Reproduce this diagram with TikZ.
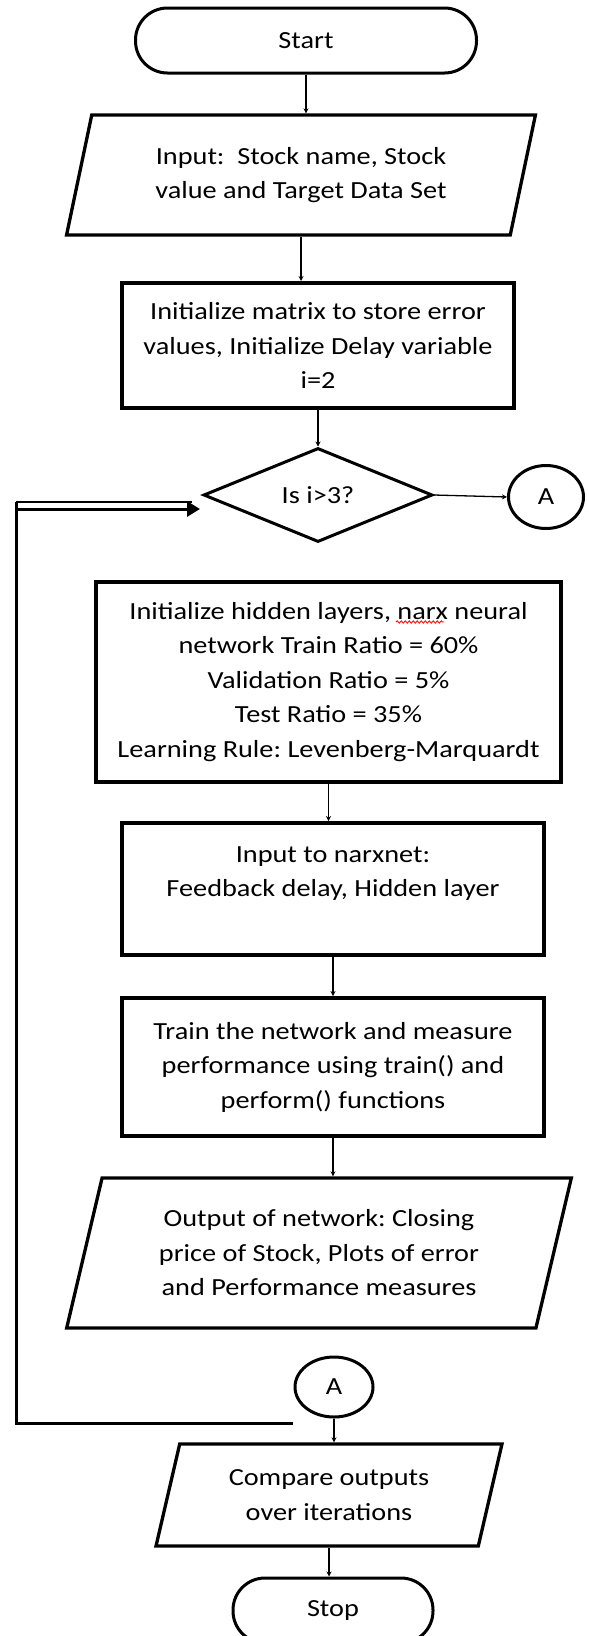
\documentclass[tikz,border=0pt]{standalone}
\usepackage{fontspec}
\setmainfont{Carlito}[FakeStretch=1.15]
\frenchspacing
\usetikzlibrary{shapes.geometric,arrows.meta,decorations.pathmorphing}
\begin{document}
\begin{tikzpicture}[x=1pt,y=-1pt,
  font=\fontsize{24.6}{34.5}\selectfont,
  term/.style={draw,line width=3,rounded corners=32,minimum width=341,minimum height=65},
  io/.style={draw,line width=3.3,trapezium,trapezium left angle=74,trapezium right angle=106,trapezium stretches=true,align=center},
  proc/.style={draw,line width=4,rectangle,align=center},
  decision/.style={draw,line width=3,diamond,aspect=2.4,inner sep=0,minimum width=229,minimum height=94},
  conn/.style={draw,line width=3,ellipse,inner sep=0,minimum width=75,minimum height=63},
  flow/.style={line width=1.3,-{Stealth[length=5,width=5]}}]
\useasboundingbox (0,0) rectangle (589,1636);

\node[term] (start) at (306,40.5) {Start};
\node[io,minimum width=470,minimum height=120] (in) at (301,175) {Input:\ \ Stock name, Stock\\value and Target Data Set};
\node[proc,minimum width=392,minimum height=125] (init) at (318,345.5) {Initialize matrix to store error\\values, Initialize Delay variable\\i=2};
\node[decision] (test) at (318,495) {Is i>3?};
\node[conn] (a1) at (546,497) {A};
\node[proc,minimum width=465,minimum height=200] (setup) at (328.5,682) {Initialize hidden layers, narx neural\\network Train Ratio = 60\%\\Validation Ratio = 5\%\\Test Ratio = 35\%\\Learning Rule: Levenberg-Marquardt};
\node[proc,minimum width=422,minimum height=132] (narx) at (333,889) {Input to narxnet:\\Feedback delay, Hidden layer\\\mbox{}};
\node[proc,minimum width=422,minimum height=138] (train) at (333,1067) {Train the network and measure\\performance using train() and\\perform() functions};
\node[io,minimum width=506,minimum height=150] (out) at (319,1253) {Output of network: Closing\\price of Stock, Plots of error\\and Performance measures};
\node[conn,minimum width=78,minimum height=60] (a2) at (334,1387) {A};
\node[io,minimum width=346,minimum height=102] (cmp) at (329,1495) {Compare outputs\\over iterations};
\node[term,minimum width=200] (stop) at (333,1610.5) {Stop};

\draw[flow] (start.south) -- (start.south |- in.north);
\draw[flow] (in.south) -- (in.south |- init.north);
\draw[flow] (init.south) -- (test.north);
\draw[flow] (test.east) -- (a1.west);
\draw[flow] (setup.south) -- (setup.south |- narx.north);
\draw[flow] (narx.south) -- (train.north);
\draw[flow] (train.south) -- (train.south |- out.north);
\draw[flow] (a2.south) -- (a2.south |- cmp.north);
\draw[flow] (cmp.south) -- (cmp.south |- stop.north);

\coordinate (loopend) at (293,1423);
\coordinate (loopcorner) at (16,1423);
\coordinate (looptop) at (16,502);
\coordinate (loopedge) at (192,502);
\coordinate (loopin) at (200,509);
\draw[line width=3] (loopend) -- (loopcorner) -- (looptop);
\draw[line width=1.5] (looptop) -- (loopedge);
\draw[line width=3,-{Triangle[length=13,width=15]}] (loopcorner |- loopin) -- (loopin);

\draw[red,line width=0.8,decorate,decoration={snake,amplitude=1.2,segment length=4}] (396,622) -- (444,622);
\end{tikzpicture}
\end{document}
